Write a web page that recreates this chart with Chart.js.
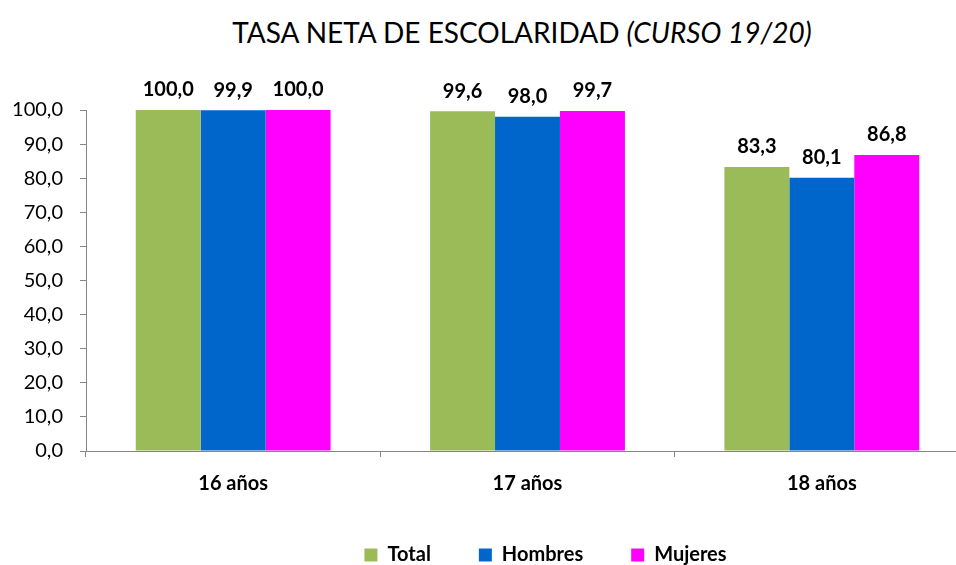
<!DOCTYPE html>
<html lang="es">
<head>
<meta charset="utf-8">
<title>Tasa neta de escolaridad</title>
<script src="https://cdn.jsdelivr.net/npm/chart.js@4.4.1/dist/chart.umd.min.js"></script>
<style>
  html, body { margin: 0; padding: 0; background: #fff; overflow: hidden; }
  #wrap { position: relative; width: 1000px; height: 575px; }
  #chart { position: absolute; left: 0; top: 0; }
  #title {
    position: absolute; left: 0; top: 15px; width: 1044px;
    text-align: center; font-family: Lato, sans-serif; font-size: 28px;
    color: #000; white-space: nowrap;
  }
</style>
</head>
<body>
<div id="wrap">
  <div id="title">TASA NETA DE ESCOLARIDAD <i>(CURSO 19/20)</i></div>
  <canvas id="chart" width="1000" height="575"></canvas>
</div>
<script>
const categories = ["16 años", "17 años", "18 años"];
const total = [100.0, 99.6, 83.3];
const hombres = [99.9, 98.0, 80.1];
const mujeres = [100.0, 99.7, 86.8];
const yTicks = [0, 10, 20, 30, 40, 50, 60, 70, 80, 90, 100];

const fmt = (v) => v.toFixed(1).replace(".", ",");
const axisGray = "#868686";

// etiquetas de valor encima de cada barra
const valueLabels = {
  id: "valueLabels",
  afterDatasetsDraw(chart) {
    const ctx = chart.ctx;
    ctx.save();
    ctx.font = "bold 20px Lato, sans-serif";
    ctx.fillStyle = "#000";
    ctx.textAlign = "center";
    ctx.textBaseline = "middle";
    chart.data.datasets.forEach((ds, i) => {
      chart.getDatasetMeta(i).data.forEach((bar, j) => {
        ctx.fillText(fmt(ds.data[j]), bar.x, bar.y - 20);
      });
    });
    ctx.restore();
  },
};

// la leyenda original no está centrada bajo el área del gráfico
const legendShift = {
  id: "legendShift",
  afterLayout(chart) {
    chart.legend.left += 18;
    chart.legend.right += 18;
  },
};

new Chart(document.getElementById("chart"), {
  type: "bar",
  data: {
    labels: categories,
    datasets: [
      { label: "Total", data: total, backgroundColor: "#9BBB59", borderWidth: 0 },
      { label: "Hombres", data: hombres, backgroundColor: "#0066CC", borderWidth: 0 },
      { label: "Mujeres", data: mujeres, backgroundColor: "#FF00FF", borderWidth: 0 },
    ],
  },
  options: {
    responsive: false,
    animation: false,
    categoryPercentage: 0.662,
    barPercentage: 1.0,
    layout: { padding: { top: 110, right: 31, left: 0, bottom: 0 } },
    plugins: {
      title: { display: false },
      tooltip: { enabled: false },
      legend: {
        position: "bottom",
        fullSize: false,
        labels: {
          boxWidth: 13,
          boxHeight: 13,
          padding: 48,
          color: "#000",
          font: { family: "Lato, sans-serif", size: 20, weight: "bold" },
        },
      },
    },
    scales: {
      x: {
        afterFit: (scale) => { scale.height = 46; },
        grid: {
          display: true,
          drawOnChartArea: false,
          drawTicks: true,
          tickLength: 6,
          color: axisGray,
        },
        border: { display: true, color: axisGray, width: 1 },
        ticks: {
          padding: 15,
          color: "#000",
          font: { family: "Lato, sans-serif", size: 20, weight: "bold" },
        },
      },
      y: {
        min: 0,
        max: 100,
        afterFit: (scale) => { scale.width = 86; },
        afterBuildTicks: (scale) => { scale.ticks = yTicks.map((v) => ({ value: v })); },
        grid: {
          display: true,
          drawOnChartArea: false,
          drawTicks: true,
          tickLength: 6,
          color: axisGray,
        },
        border: { display: true, color: axisGray, width: 1 },
        ticks: {
          padding: 17,
          color: "#000",
          font: { family: "Lato, sans-serif", size: 20 },
          callback: (v) => fmt(v),
        },
      },
    },
  },
  plugins: [valueLabels, legendShift],
});
</script>
</body>
</html>
